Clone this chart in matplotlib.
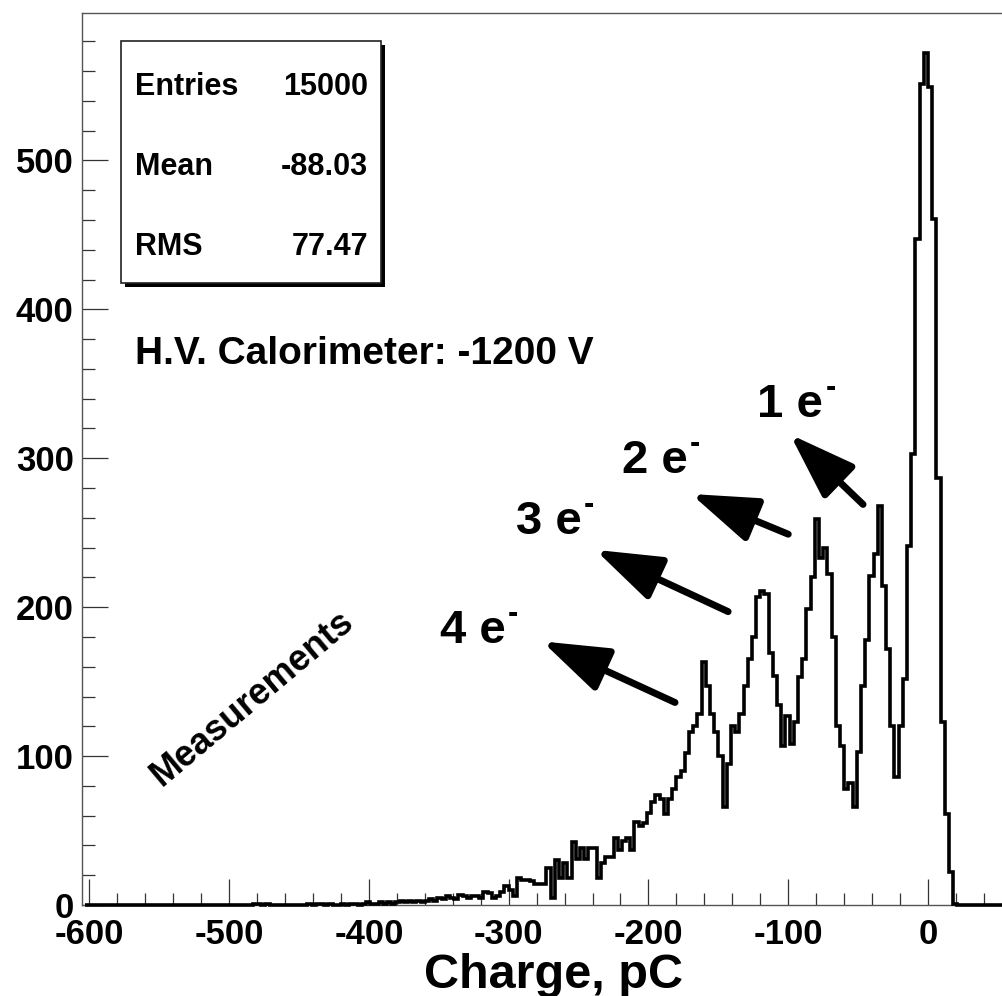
import numpy as np
import matplotlib.pyplot as plt
from matplotlib.patches import Rectangle
from matplotlib.ticker import MultipleLocator

plt.rcParams['font.family'] = ['Liberation Sans', 'DejaVu Sans']
plt.rcParams['font.weight'] = 'bold'
plt.rcParams['axes.unicode_minus'] = False

# Histogram: 3 pC bins, first listed bin starts at -501 pC
BIN_WIDTH = 3
FIRST_EDGE = -501
AXIS_START = -603
AXIS_END = 54
counts = [
    # -501 .. -423
    0, 0, 0, 0, 0, 0, 1, 1, 0, 1, 0, 0, 0, 0, 0, 0, 0, 0, 0, 1, 0, 1, 1, 0, 1, 0, 0,
    # -420 .. -333
    1, 0, 1, 1, 0, 1, 2, 1, 1, 2, 1, 2, 1, 2, 3, 2, 3, 2, 3, 2, 3, 4, 3, 5, 4, 6, 5, 4, 7, 6,
    # -330 .. -162
    5, 6, 6, 5, 9, 8, 5, 6, 9, 13,
    10, 6, 18, 17, 17, 16, 14, 14, 14, 25,
    5, 30, 18, 28, 18, 42, 31, 38, 31, 38,
    38, 18, 28, 32, 32, 45, 37, 43, 45, 37,
    56, 53, 55, 62, 69, 74, 71, 61, 71, 78,
    86, 90, 102, 116, 120, 128, 163,
    # -159 .. -117
    147, 128, 116, 100, 66, 95, 120, 116, 128, 147, 165, 180, 207, 211, 209,
    # -114 .. -81
    169, 154, 134, 107, 127, 108, 123, 153, 165, 199, 220, 259,
    # -78 .. -36
    233, 240, 222, 180, 120, 107, 78, 82, 66, 103, 147, 178, 221, 236, 268,
    # -33 .. 18
    214, 172, 120, 86, 120, 152, 241, 303, 447, 551, 572, 549, 461, 287, 123, 61, 22, 1,
]

stat_names = ['Entries', 'Mean', 'RMS']
stat_values = ['15000', '-88.03', '77.47']

peak_labels = ['1 e', '2 e', '3 e', '4 e']
label_pos = [(-122, 328), (-219, 290), (-295, 249), (-349, 176)]
arrow_tails = [(-46.5, 269), (-100, 249), (-143, 197), (-181, 136)]
arrow_heads = [(-98.7, 316), (-169.5, 276), (-238, 238.5), (-276, 177)]

W, H = 1002, 996
fig = plt.figure(figsize=(W / 100, H / 100), dpi=100)
ax = fig.add_axes([82 / W, 91 / H, 920 / W, 892 / H])

# pad the histogram with empty bins across the whole axis range
n_left = (FIRST_EDGE - AXIS_START) // BIN_WIDTH
last_edge = FIRST_EDGE + len(counts) * BIN_WIDTH
n_right = (AXIS_END - last_edge) // BIN_WIDTH
full = np.concatenate([np.zeros(n_left), np.array(counts, float), np.zeros(n_right)])
edges = AXIS_START + BIN_WIDTH * np.arange(len(full) + 1)
ax.stairs(full, edges, color='black', lw=2.6, clip_on=False, zorder=3)

ax.set_xlim(-605.2, 52.9)
ax.set_ylim(0, 599)

ax.xaxis.set_major_locator(MultipleLocator(100))
ax.xaxis.set_minor_locator(MultipleLocator(20))
ax.yaxis.set_major_locator(MultipleLocator(100))
ax.yaxis.set_minor_locator(MultipleLocator(20))
ax.tick_params(which='both', direction='in', color='#333333', width=0.9,
               labelsize=25)
ax.tick_params(which='major', length=19)
ax.tick_params(which='minor', length=9)
ax.tick_params(axis='x', pad=9)
ax.tick_params(axis='y', pad=6)
ax.spines['right'].set_visible(False)
for s in ['left', 'top', 'bottom']:
    ax.spines[s].set_color('#555555')
    ax.spines[s].set_linewidth(1.0)

fig.text(553 / W, 1 - 953 / H, 'Charge, pC', ha='center', va='top',
         fontsize=35, fontweight='bold')

# stats box with shadow
bx0, by0, bx1, by1 = 121, 41, 381, 283
shadow = Rectangle(((bx0 + 4) / W, 1 - (by1 + 4) / H), (bx1 - bx0) / W, (by1 - by0) / H,
                   transform=fig.transFigure, facecolor='black', edgecolor='none', zorder=4)
box = Rectangle((bx0 / W, 1 - by1 / H), (bx1 - bx0) / W, (by1 - by0) / H,
                transform=fig.transFigure, facecolor='white', edgecolor='#222222',
                lw=1.2, zorder=5)
fig.add_artist(shadow)
fig.add_artist(box)
for i, (name, val) in enumerate(zip(stat_names, stat_values)):
    yb = 95 + 80 * i
    fig.text(135 / W, 1 - yb / H, name, ha='left', va='baseline',
             fontsize=22, fontweight='bold', zorder=6)
    fig.text(368 / W, 1 - yb / H, val, ha='right', va='baseline',
             fontsize=22, fontweight='bold', zorder=6)

ax.text(-567, 363.5, 'H.V. Calorimeter: -1200 V', ha='left', va='baseline',
        fontsize=28, fontweight='bold')
ax.text(-483.5, 138.5, 'Measurements', ha='center', va='center', rotation=40,
        rotation_mode='anchor', fontsize=26, fontweight='bold')

for lab, (lx, ly) in zip(peak_labels, label_pos):
    ax.text(lx, ly, lab, ha='left', va='baseline', fontsize=34, fontweight='bold')
    # small superscript minus of the electron symbol
    ax.annotate('-', xy=(lx, ly), xytext=(49, 15), textcoords='offset points',
                ha='left', va='baseline', fontsize=22, fontweight='bold')
for tail, head in zip(arrow_tails, arrow_heads):
    ax.annotate('', xy=head, xytext=tail,
                arrowprops=dict(arrowstyle='-|>,head_length=1.45,head_width=0.5',
                                lw=5, color='black', mutation_scale=28,
                                shrinkA=0, shrinkB=0))

fig.savefig('out.png', dpi=100)
